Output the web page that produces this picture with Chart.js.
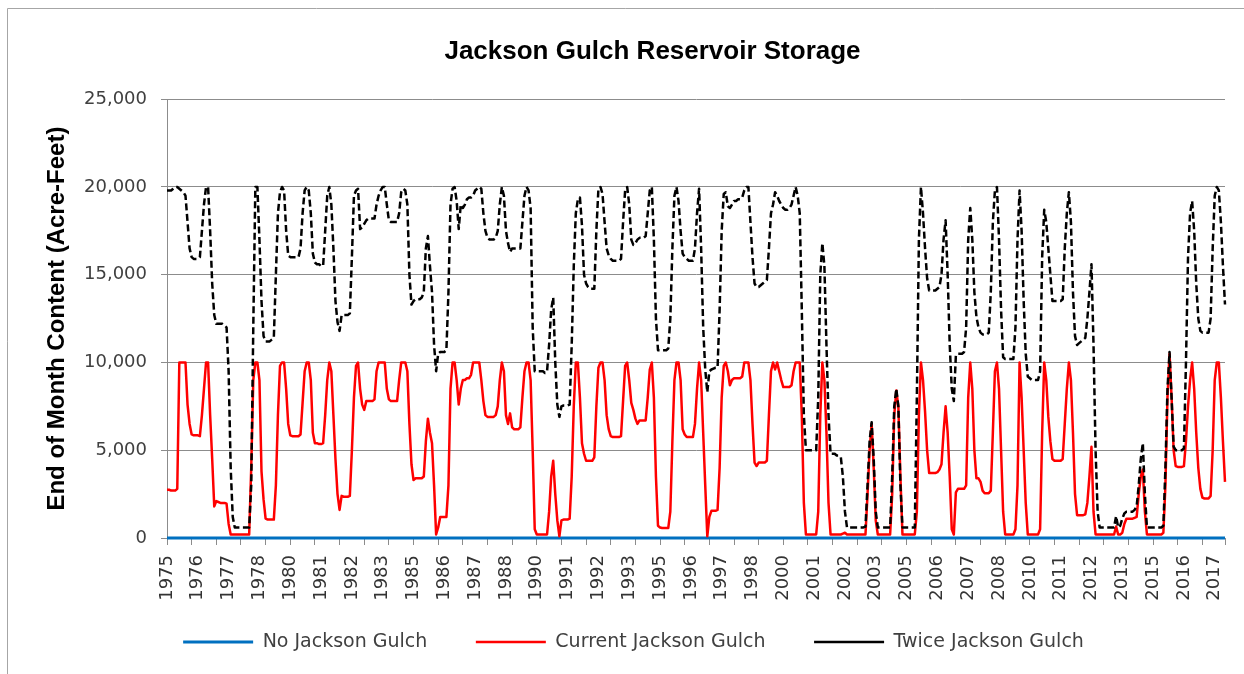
<!DOCTYPE html>
<html>
<head>
<meta charset="utf-8">
<title>Jackson Gulch Reservoir Storage</title>
<script src="https://cdn.jsdelivr.net/npm/chart.js@4.4.1/dist/chart.umd.min.js"></script>
<style>
    html, body { margin: 0; padding: 0; background: #fff; }
    #wrap { width: 1244px; height: 674px; }
</style>
</head>
<body>
<div id="wrap"><canvas id="chart-storage" width="1244" height="674"></canvas></div>
<script>
// monthly end-of-month content, Jan 1975 - Dec 2017 (one row per year)
const firstYear = 1975;
const monthCount = 516;

// Excel shows a year label on every 15th month
const tickYears = [
    '1975', '1976', '1977', '1978', '1980', '1981', '1982', '1983', '1985',
    '1986', '1987', '1988', '1990', '1991', '1992', '1993', '1995', '1996',
    '1997', '1998', '2000', '2001', '2002', '2003', '2005', '2006', '2007',
    '2008', '2010', '2011', '2012', '2013', '2015', '2016', '2017',
];

const noJacksonGulch = [
    0, 0, 0, 0, 0, 0, 0, 0, 0, 0, 0, 0,
    0, 0, 0, 0, 0, 0, 0, 0, 0, 0, 0, 0,
    0, 0, 0, 0, 0, 0, 0, 0, 0, 0, 0, 0,
    0, 0, 0, 0, 0, 0, 0, 0, 0, 0, 0, 0,
    0, 0, 0, 0, 0, 0, 0, 0, 0, 0, 0, 0,
    0, 0, 0, 0, 0, 0, 0, 0, 0, 0, 0, 0,
    0, 0, 0, 0, 0, 0, 0, 0, 0, 0, 0, 0,
    0, 0, 0, 0, 0, 0, 0, 0, 0, 0, 0, 0,
    0, 0, 0, 0, 0, 0, 0, 0, 0, 0, 0, 0,
    0, 0, 0, 0, 0, 0, 0, 0, 0, 0, 0, 0,
    0, 0, 0, 0, 0, 0, 0, 0, 0, 0, 0, 0,
    0, 0, 0, 0, 0, 0, 0, 0, 0, 0, 0, 0,
    0, 0, 0, 0, 0, 0, 0, 0, 0, 0, 0, 0,
    0, 0, 0, 0, 0, 0, 0, 0, 0, 0, 0, 0,
    0, 0, 0, 0, 0, 0, 0, 0, 0, 0, 0, 0,
    0, 0, 0, 0, 0, 0, 0, 0, 0, 0, 0, 0,
    0, 0, 0, 0, 0, 0, 0, 0, 0, 0, 0, 0,
    0, 0, 0, 0, 0, 0, 0, 0, 0, 0, 0, 0,
    0, 0, 0, 0, 0, 0, 0, 0, 0, 0, 0, 0,
    0, 0, 0, 0, 0, 0, 0, 0, 0, 0, 0, 0,
    0, 0, 0, 0, 0, 0, 0, 0, 0, 0, 0, 0,
    0, 0, 0, 0, 0, 0, 0, 0, 0, 0, 0, 0,
    0, 0, 0, 0, 0, 0, 0, 0, 0, 0, 0, 0,
    0, 0, 0, 0, 0, 0, 0, 0, 0, 0, 0, 0,
    0, 0, 0, 0, 0, 0, 0, 0, 0, 0, 0, 0,
    0, 0, 0, 0, 0, 0, 0, 0, 0, 0, 0, 0,
    0, 0, 0, 0, 0, 0, 0, 0, 0, 0, 0, 0,
    0, 0, 0, 0, 0, 0, 0, 0, 0, 0, 0, 0,
    0, 0, 0, 0, 0, 0, 0, 0, 0, 0, 0, 0,
    0, 0, 0, 0, 0, 0, 0, 0, 0, 0, 0, 0,
    0, 0, 0, 0, 0, 0, 0, 0, 0, 0, 0, 0,
    0, 0, 0, 0, 0, 0, 0, 0, 0, 0, 0, 0,
    0, 0, 0, 0, 0, 0, 0, 0, 0, 0, 0, 0,
    0, 0, 0, 0, 0, 0, 0, 0, 0, 0, 0, 0,
    0, 0, 0, 0, 0, 0, 0, 0, 0, 0, 0, 0,
    0, 0, 0, 0, 0, 0, 0, 0, 0, 0, 0, 0,
    0, 0, 0, 0, 0, 0, 0, 0, 0, 0, 0, 0,
    0, 0, 0, 0, 0, 0, 0, 0, 0, 0, 0, 0,
    0, 0, 0, 0, 0, 0, 0, 0, 0, 0, 0, 0,
    0, 0, 0, 0, 0, 0, 0, 0, 0, 0, 0, 0,
    0, 0, 0, 0, 0, 0, 0, 0, 0, 0, 0, 0,
    0, 0, 0, 0, 0, 0, 0, 0, 0, 0, 0, 0,
    0, 0, 0, 0, 0, 0, 0, 0, 0, 0, 0, 0,
];

const currentJacksonGulch = [
    2750, 2750, 2700, 2700, 2700, 2800, 10000, 10000, 10000, 10000, 7600, 6500,
    5900, 5850, 5850, 5850, 5800, 7000, 8500, 10000, 10000, 7000, 4500, 1800,
    2100, 2050, 2000, 2000, 2000, 1950, 800, 200, 200, 200, 200, 200,
    200, 200, 200, 200, 200, 4000, 9000, 10000, 10000, 9000, 3800, 2200,
    1100, 1050, 1050, 1050, 1050, 3000, 7000, 9800, 10000, 10000, 8500, 6500,
    5850, 5800, 5800, 5800, 5800, 5900, 7700, 9500, 10000, 10000, 9000, 6000,
    5400, 5400, 5350, 5350, 5400, 7000, 9000, 10000, 9500, 7000, 4500, 2500,
    1600, 2400, 2350, 2350, 2350, 2400, 5000, 8000, 9800, 10000, 8500, 7600,
    7300, 7800, 7800, 7800, 7800, 7900, 9500, 10000, 10000, 10000, 10000, 8500,
    7900, 7800, 7800, 7800, 7800, 9000, 10000, 10000, 10000, 9500, 6500, 4200,
    3300, 3400, 3400, 3400, 3400, 3500, 5500, 6800, 6000, 5400, 3000, 200,
    600, 1200, 1200, 1200, 1200, 3000, 8500, 10000, 10000, 9000, 7600, 8500,
    9000, 9000, 9100, 9100, 9300, 10000, 10000, 10000, 10000, 9000, 7800, 7000,
    6900, 6900, 6900, 6900, 7000, 7500, 9000, 10000, 9500, 7000, 6500, 7100,
    6300, 6200, 6200, 6200, 6300, 8000, 9500, 10000, 10000, 9000, 5000, 500,
    200, 200, 200, 200, 200, 200, 1500, 3500, 4400, 2500, 1000, 100,
    1000, 1050, 1050, 1050, 1100, 3500, 7500, 10000, 10000, 8000, 5400, 4800,
    4400, 4400, 4400, 4400, 4600, 7500, 9700, 10000, 10000, 9000, 7000, 6200,
    5800, 5750, 5750, 5750, 5750, 5800, 7800, 9800, 10000, 9000, 7700, 7300,
    6800, 6500, 6700, 6700, 6700, 6700, 8000, 9600, 10000, 8000, 3500, 700,
    600, 570, 570, 570, 570, 1500, 5500, 9000, 10000, 10000, 9000, 6200,
    5900, 5750, 5750, 5750, 5750, 6500, 8500, 10000, 9000, 6000, 3000, 100,
    1200, 1550, 1550, 1550, 1600, 4000, 8000, 9800, 10000, 9500, 8700, 9000,
    9100, 9100, 9100, 9100, 9200, 10000, 10000, 10000, 9000, 6500, 4300, 4100,
    4300, 4300, 4300, 4300, 4400, 7000, 9500, 10000, 9600, 10000, 9500, 9000,
    8600, 8600, 8600, 8600, 8700, 9500, 10000, 10000, 10000, 7000, 2000, 200,
    200, 200, 200, 200, 200, 1500, 7000, 10000, 9000, 6000, 2000, 200,
    200, 200, 200, 200, 200, 250, 300, 200, 200, 200, 200, 200,
    200, 200, 200, 200, 200, 2500, 5000, 6500, 4000, 1000, 200, 200,
    200, 200, 200, 200, 200, 2500, 7000, 8400, 7500, 3500, 200, 200,
    200, 200, 200, 200, 200, 1500, 7000, 10000, 9000, 7200, 5000, 3700,
    3700, 3700, 3700, 3750, 3900, 4200, 6000, 7500, 6000, 3500, 500, 200,
    2600, 2800, 2800, 2800, 2800, 3000, 8000, 10000, 8500, 5000, 3400, 3400,
    3200, 2700, 2550, 2550, 2550, 2700, 6000, 9500, 10000, 8500, 5000, 1500,
    200, 200, 200, 200, 200, 500, 3000, 10000, 8000, 5000, 2000, 200,
    200, 200, 200, 200, 200, 500, 6000, 10000, 9000, 6900, 5500, 4500,
    4400, 4400, 4400, 4400, 4500, 6500, 8500, 10000, 9000, 6000, 2500, 1300,
    1300, 1300, 1300, 1350, 2000, 3500, 5200, 1500, 200, 200, 200, 200,
    200, 200, 200, 200, 200, 200, 650, 200, 200, 300, 800, 1100,
    1100, 1100, 1100, 1150, 1200, 2500, 3500, 3900, 1500, 200, 200, 200,
    200, 200, 200, 200, 200, 300, 3000, 8000, 10500, 8000, 5000, 4100,
    4050, 4050, 4050, 4100, 5500, 7500, 9000, 10000, 8500, 6000, 4000, 2800,
    2300, 2250, 2250, 2250, 2400, 5000, 9000, 10000, 10000, 8000, 5500, 3200,
];

const twiceJacksonGulch = [
    19800, 19800, 19800, 19900, 20000, 20000, 19900, 19800, 19700, 19500, 18000, 16500,
    16000, 15900, 15900, 15900, 16000, 17500, 19000, 20000, 20000, 17500, 14500, 12700,
    12200, 12200, 12200, 12200, 12100, 12000, 9500, 4000, 1200, 600, 600, 600,
    600, 600, 600, 600, 600, 3000, 12000, 20000, 20000, 17000, 13500, 11500,
    11200, 11200, 11200, 11300, 11400, 15000, 18500, 19700, 20000, 19800, 17500, 16100,
    16000, 16000, 16000, 16000, 16000, 16500, 18500, 19800, 20000, 19800, 18500, 16200,
    15700, 15600, 15600, 15500, 15500, 17500, 19500, 20000, 19000, 16500, 13500, 12300,
    11800, 12700, 12700, 12700, 12700, 12800, 16000, 19500, 19800, 19900, 17600, 17700,
    17900, 18100, 18200, 18200, 18200, 18200, 19000, 19500, 19800, 20000, 20000, 19000,
    18100, 18000, 18000, 18000, 18000, 18500, 19700, 19900, 19800, 19000, 15000, 13300,
    13500, 13600, 13600, 13600, 13700, 14000, 16500, 17200, 15500, 14000, 11000, 9500,
    10500, 10600, 10600, 10600, 10700, 14000, 19000, 19900, 20000, 19200, 17600, 19000,
    18800, 19000, 19300, 19400, 19400, 19500, 19800, 19900, 20000, 19900, 18500, 17500,
    17100, 17000, 17000, 17000, 17100, 17500, 19000, 20000, 19500, 17500, 16800, 16300,
    16500, 16500, 16500, 16500, 16500, 18000, 19500, 20000, 19800, 18800, 12000, 9500,
    9500, 9500, 9500, 9500, 9400, 9500, 11000, 13000, 13700, 10000, 7600, 6900,
    7500, 7550, 7550, 7550, 7600, 11000, 15500, 18500, 19300, 19400, 17800, 15000,
    14500, 14300, 14200, 14200, 14200, 17500, 19900, 20000, 19600, 18000, 16500, 16100,
    15900, 15800, 15800, 15800, 15800, 15900, 18000, 19800, 20000, 19000, 17000, 16700,
    16800, 17000, 17100, 17100, 17100, 17200, 18500, 19800, 20000, 17000, 12500, 10700,
    10700, 10700, 10700, 10700, 10800, 12500, 16500, 19500, 20000, 19200, 17500, 16200,
    16000, 15900, 15800, 15800, 15800, 16500, 18500, 19900, 16500, 12000, 9600, 8300,
    9500, 9600, 9650, 9700, 9700, 13000, 17500, 19600, 19700, 18900, 18800, 19000,
    19200, 19200, 19300, 19300, 19400, 19800, 20000, 20000, 18000, 16000, 14500, 14300,
    14300, 14400, 14500, 14600, 14700, 16500, 18500, 19000, 19700, 19500, 19200, 19000,
    18800, 18700, 18700, 18800, 19000, 19500, 20000, 19500, 18500, 13000, 7000, 5000,
    5000, 5000, 5000, 5000, 5000, 8000, 15000, 16800, 15500, 11000, 7000, 4800,
    4800, 4800, 4700, 4700, 4600, 3500, 1500, 600, 600, 600, 600, 600,
    600, 600, 600, 600, 650, 3000, 5500, 6600, 4500, 1500, 600, 600,
    600, 600, 600, 600, 600, 3500, 7500, 8500, 7500, 3000, 600, 600,
    600, 600, 600, 600, 600, 8000, 17000, 20000, 18500, 16500, 14800, 14100,
    14100, 14100, 14100, 14200, 14300, 15000, 17000, 18100, 15000, 11000, 8500, 7800,
    10400, 10500, 10500, 10500, 10600, 12000, 17000, 18800, 17000, 14000, 12600, 12000,
    11700, 11600, 11600, 11600, 11700, 14000, 18000, 19800, 20000, 17000, 13000, 10300,
    10200, 10200, 10200, 10200, 10200, 12000, 17000, 19800, 17500, 13500, 10500, 9200,
    9100, 9000, 9000, 9000, 9000, 9500, 16000, 18700, 18000, 16500, 15000, 13500,
    13500, 13500, 13500, 13500, 13600, 16500, 18500, 19700, 18000, 14000, 11500, 11000,
    11100, 11200, 11300, 11400, 12500, 14000, 15600, 11000, 5000, 1500, 600, 600,
    600, 600, 600, 600, 600, 600, 1250, 600, 700, 1100, 1400, 1500,
    1500, 1500, 1500, 1600, 1800, 3000, 4500, 5400, 2500, 600, 600, 600,
    600, 600, 600, 600, 600, 700, 4000, 8500, 10600, 8000, 5200, 5000,
    5000, 5000, 5000, 5100, 10000, 16000, 18500, 19200, 17500, 14500, 12500, 11800,
    11700, 11700, 11700, 11700, 12500, 16500, 19500, 20000, 19800, 18000, 15500, 13300,
];

let months = [];
for (let i = 0; i < monthCount; i++) {
    let year = firstYear + Math.floor(i / 12);
    let month = (i % 12) + 1;
    months.push(year + '-' + (month < 10 ? '0' : '') + month);
}

const gridGray = '#8c8c8c';
const textGray = '#404040';

// white background plus the thin frame Excel leaves on the left and top
const chartFrame = {
    id: 'chartFrame',
    beforeDraw(chart) {
        let ctx = chart.ctx;
        ctx.save();
        ctx.fillStyle = '#ffffff';
        ctx.fillRect(0, 0, chart.width, chart.height);
        ctx.strokeStyle = '#a6a6a6';
        ctx.lineWidth = 1;
        ctx.beginPath();
        ctx.moveTo(7.5, chart.height);
        ctx.lineTo(7.5, 8.5);
        ctx.lineTo(chart.width, 8.5);
        ctx.stroke();
        ctx.restore();
    },
};

// Excel spaces the legend entries wider than chart.js does; pad them with em spaces
function getLegendLabels(chart) {
    let items = Chart.defaults.plugins.legend.labels.generateLabels(chart);
    items.forEach((item) => {
        item.text += item.datasetIndex === 2 ? '\u2003\u2003' : '\u2003';
    });
    return items;
}

let storageCanvas = document.getElementById('chart-storage');

new Chart(storageCanvas, {
    type: 'line',
    data: {
        labels: months,
        datasets: [{
            label: 'No Jackson Gulch',
            data: noJacksonGulch,
            borderColor: '#0070c0',
            backgroundColor: '#0070c0',
            borderWidth: 3,
            order: 2,
        }, {
            label: 'Current Jackson Gulch',
            data: currentJacksonGulch,
            borderColor: '#ff0000',
            backgroundColor: '#ff0000',
            borderWidth: 2.5,
            order: 1,
        }, {
            label: 'Twice Jackson Gulch',
            data: twiceJacksonGulch,
            borderColor: '#000000',
            backgroundColor: '#000000',
            borderWidth: 2.5,
            borderDash: [7, 3.5],
            order: 0,
        }],
    },
    options: {
        responsive: false,
        animation: false,
        layout: {
            padding: { left: 80, right: 19, top: 12, bottom: 12.5 },
        },
        datasets: {
            line: { clip: false },
        },
        elements: {
            point: { radius: 0 },
            line: { tension: 0, borderJoinStyle: 'round' },
        },
        font: { family: "'DejaVu Sans', sans-serif" },
        plugins: {
            tooltip: { enabled: false },
            title: {
                display: true,
                text: 'Jackson Gulch Reservoir Storage',
                color: '#000000',
                font: { family: "'Liberation Sans Narrow', 'Liberation Sans', sans-serif", size: 26, weight: 'bold' },
                padding: { top: 24, bottom: 32 },
            },
            legend: {
                position: 'bottom',
                labels: {
                    usePointStyle: true,
                    pointStyle: 'line',
                    pointStyleWidth: 70,
                    padding: 29.5,
                    color: textGray,
                    font: { family: "'DejaVu Sans', sans-serif", size: 19 },
                    generateLabels: getLegendLabels,
                    sort: (a, b) => a.datasetIndex - b.datasetIndex,
                },
            },
        },
        scales: {
            x: {
                offset: false,
                grid: {
                    drawOnChartArea: false,
                    tickLength: 7,
                    color: (ctx) => (ctx.index % 12 === 0 || ctx.index === monthCount - 1) ? gridGray : 'rgba(0,0,0,0)',
                },
                border: { color: gridGray },
                ticks: {
                    autoSkip: false,
                    minRotation: 90,
                    maxRotation: 90,
                    padding: 10,
                    color: '#333333',
                    font: { family: "'DejaVu Sans', sans-serif", size: 18 },
                    callback: (value, index) => index % 15 === 0 ? tickYears[index / 15] : '',
                },
                afterFit: (scale) => {
                    scale.height = 65;
                    scale.paddingRight = 0;
                },
            },
            y: {
                min: 0,
                max: 25000,
                grid: { color: gridGray, tickLength: 6 },
                border: { color: gridGray },
                ticks: {
                    stepSize: 5000,
                    padding: 14,
                    color: textGray,
                    font: { family: "'DejaVu Sans', sans-serif", size: 18 },
                },
                title: {
                    display: true,
                    text: 'End of Month Content (Acre-Feet)',
                    color: '#000000',
                    font: { family: "'Liberation Sans Narrow', 'Liberation Sans', sans-serif", size: 24, weight: 'bold' },
                    padding: { top: -37, bottom: 37 },
                },
                afterFit: (scale) => {
                    scale.width = 87;
                },
            },
        },
    },
    plugins: [chartFrame],
});
</script>
</body>
</html>
